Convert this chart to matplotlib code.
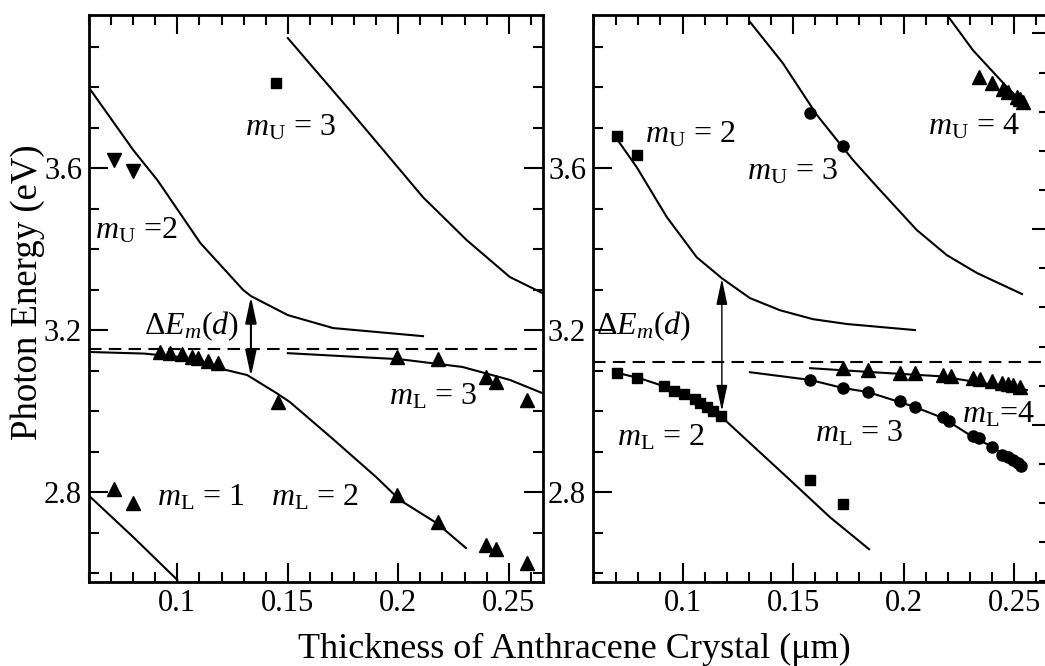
import matplotlib
matplotlib.use("Agg")
import matplotlib.pyplot as plt
from matplotlib.ticker import MultipleLocator, FixedLocator, NullFormatter

plt.rcParams['font.family'] = ['Liberation Serif', 'DejaVu Serif']
plt.rcParams['mathtext.fontset'] = 'custom'
plt.rcParams['mathtext.rm'] = 'Liberation Serif'
plt.rcParams['mathtext.it'] = 'Liberation Serif:italic'

# ---- left panel: theory curves ----
L_up2_x = [0.0598, 0.0801, 0.0910, 0.1104, 0.1298, 0.1333, 0.1500, 0.1705, 0.2112]
L_up2_y = [3.800, 3.644, 3.570, 3.415, 3.299, 3.284, 3.237, 3.205, 3.185]
L_up3_x = [0.1500, 0.1780, 0.2112, 0.2310, 0.2505, 0.2654]
L_up3_y = [3.921, 3.743, 3.528, 3.422, 3.331, 3.291]
L_lo2_x = [0.0600, 0.0850, 0.1000, 0.1163, 0.1316, 0.1450, 0.1510, 0.1700, 0.1900, 0.2008, 0.2175, 0.2306]
L_lo2_y = [3.146, 3.142, 3.134, 3.109, 3.089, 3.044, 3.022, 2.933, 2.837, 2.780, 2.723, 2.662]
L_lo3_x = [0.1500, 0.2008, 0.2290, 0.2505, 0.2654]
L_lo3_y = [3.143, 3.128, 3.109, 3.077, 3.044]
L_lo1_x = [0.0602, 0.0800, 0.1000]
L_lo1_y = [2.790, 2.689, 2.583]

# ---- left panel: measured points ----
L_tdn_x = [0.0711, 0.0801]
L_tdn_y = [3.620, 3.593]
L_sq_x = [0.1447]
L_sq_y = [3.810]
L_tri_x = [0.0711, 0.0801, 0.0923, 0.0968, 0.1023, 0.1068, 0.1095, 0.1140, 0.1185,
           0.1456, 0.1994, 0.2179, 0.2396, 0.2441, 0.2582,
           0.1994, 0.2179, 0.2396, 0.2441, 0.2582]
L_tri_y = [2.807, 2.773, 3.146, 3.143, 3.141, 3.133, 3.131, 3.123, 3.118,
           3.022, 3.133, 3.128, 3.084, 3.072, 3.027,
           2.793, 2.726, 2.669, 2.659, 2.625]
L_exciton = 3.153

# ---- right panel: theory curves ----
R_up2_x = [0.0707, 0.0793, 0.0929, 0.1064, 0.1178, 0.1305, 0.1441, 0.1590, 0.1744, 0.2052]
R_up2_y = [3.669, 3.602, 3.479, 3.380, 3.328, 3.279, 3.249, 3.227, 3.215, 3.200]
R_up3_x = [0.1305, 0.1454, 0.1608, 0.1771, 0.1893, 0.2060, 0.2196, 0.2332, 0.2536]
R_up3_y = [3.961, 3.859, 3.731, 3.620, 3.546, 3.447, 3.385, 3.341, 3.289]
R_up4_x = [0.2201, 0.2314, 0.2468, 0.2558]
R_up4_y = [3.975, 3.891, 3.800, 3.751]
R_lo2_x = [0.0707, 0.0807, 0.0929, 0.1033, 0.1178, 0.1305, 0.1486, 0.1667, 0.1844]
R_lo2_y = [3.094, 3.081, 3.059, 3.040, 2.985, 2.921, 2.830, 2.738, 2.659]
R_lo3_x = [0.1305, 0.1577, 0.1726, 0.1839, 0.1984, 0.2052, 0.2178, 0.2314, 0.2405, 0.2536]
R_lo3_y = [3.096, 3.077, 3.057, 3.047, 3.022, 3.010, 2.983, 2.936, 2.911, 2.862]
R_lo4_x = [0.1577, 0.1862, 0.2165, 0.2558]
R_lo4_y = [3.106, 3.096, 3.086, 3.052]

# ---- right panel: measured points ----
R_sq_x = [0.0702, 0.0793, 0.0704, 0.0795, 0.0915, 0.0961, 0.1006, 0.1056, 0.1081,
          0.1111, 0.1139, 0.1176, 0.1577, 0.1726]
R_sq_y = [3.679, 3.632, 3.093, 3.081, 3.062, 3.050, 3.042, 3.030, 3.020,
          3.011, 3.001, 2.988, 2.830, 2.770]
R_ci_x = [0.1577, 0.1726, 0.1577, 0.1726, 0.1839, 0.1984, 0.2052, 0.2180, 0.2206,
          0.2315, 0.2342, 0.2400, 0.2445, 0.2473, 0.2495, 0.2518, 0.2532]
R_ci_y = [3.736, 3.654, 3.077, 3.056, 3.047, 3.025, 3.010, 2.985, 2.975,
          2.938, 2.933, 2.911, 2.891, 2.886, 2.879, 2.871, 2.864]
R_tri_x = [0.2342, 0.2400, 0.2450, 0.2473, 0.2513, 0.2527, 0.2541,
           0.1726, 0.1839, 0.1984, 0.2052, 0.2178, 0.2215, 0.2315, 0.2346,
           0.2400, 0.2445, 0.2473, 0.2495, 0.2527]
R_tri_y = [3.825, 3.810, 3.795, 3.788, 3.775, 3.770, 3.763,
           3.106, 3.101, 3.094, 3.093, 3.089, 3.086, 3.081, 3.079,
           3.074, 3.069, 3.067, 3.064, 3.060]
R_exciton = 3.121

W, H = 1045, 666
fig = plt.figure(figsize=(W / 100, H / 100), dpi=100)
axL = fig.add_axes([89 / W, 84 / H, 454 / W, 567 / H])
axR = fig.add_axes([593 / W, 84 / H, 454 / W, 567 / H])

ylim = (2.578, 3.978)
lw = 1.5
tick_fs = 22


def style(ax, right=True):
    ax.set_ylim(*ylim)
    ax.xaxis.set_major_locator(FixedLocator([0.1, 0.15, 0.2, 0.25]))
    ax.xaxis.set_minor_locator(MultipleLocator(0.01))
    ax.yaxis.set_major_locator(FixedLocator([2.8, 3.2, 3.6]))
    ax.yaxis.set_minor_locator(MultipleLocator(0.1))
    ax.set_xticklabels(['0.1', '0.15', '0.2', '0.25'])
    ax.set_yticklabels(['2.8', '3.2', '3.6'])
    ax.tick_params(which='both', direction='in', top=True, right=right,
                   width=1.5, labelsize=tick_fs, color='black')
    ax.tick_params(which='major', length=14, pad=5)
    ax.tick_params(which='minor', length=7)
    for s in ax.spines.values():
        s.set_linewidth(2)


style(axL)
style(axR, right=False)
axL.set_xlim(0.0600, 0.2655)
axR.set_xlim(0.0595, 0.2649)

# twin axis on the right of the right panel
ax2 = axR.twinx()
ax2.set_ylim(-0.013, 14.47)
ax2.yaxis.set_major_locator(FixedLocator([4, 9, 14]))
ax2.yaxis.set_minor_locator(MultipleLocator(1))
ax2.yaxis.set_major_formatter(NullFormatter())
ax2.tick_params(which='both', direction='in', width=1.5)
ax2.tick_params(which='major', length=11)
ax2.tick_params(which='minor', length=6)
for s in ax2.spines.values():
    s.set_visible(False)

# curves left
for xs, ys in [(L_up2_x, L_up2_y), (L_up3_x, L_up3_y), (L_lo2_x, L_lo2_y),
               (L_lo3_x, L_lo3_y), (L_lo1_x, L_lo1_y)]:
    axL.plot(xs, ys, color='black', lw=lw)
axL.axhline(L_exciton, color='black', lw=1.5, ls=(0, (6, 3.5)))
axL.plot(L_tdn_x, L_tdn_y, 'v', color='black', ms=9.5, ls='none')
axL.plot(L_sq_x, L_sq_y, 's', color='black', ms=7, ls='none')
axL.plot(L_tri_x, L_tri_y, '^', color='black', ms=9.5, ls='none')

# curves right
for xs, ys in [(R_up2_x, R_up2_y), (R_up3_x, R_up3_y), (R_up4_x, R_up4_y),
               (R_lo2_x, R_lo2_y), (R_lo3_x, R_lo3_y), (R_lo4_x, R_lo4_y)]:
    axR.plot(xs, ys, color='black', lw=lw)
axR.axhline(R_exciton, color='black', lw=1.5, ls=(0, (6, 3.5)))
axR.plot(R_sq_x, R_sq_y, 's', color='black', ms=7, ls='none')
axR.plot(R_ci_x, R_ci_y, 'o', color='black', ms=8, ls='none')
axR.plot(R_tri_x, R_tri_y, '^', color='black', ms=9.5, ls='none')

# arrows for the splitting
axL.annotate('', xy=(0.1333, 3.283), xytext=(0.1333, 3.085),
             arrowprops=dict(arrowstyle='<|-|>,head_length=0.8,head_width=0.17',
                             color='black', lw=1.5, shrinkA=0, shrinkB=0,
                             mutation_scale=20))
axR.annotate('', xy=(0.1178, 3.327), xytext=(0.1178, 3.000),
             arrowprops=dict(arrowstyle='<|-|>,head_length=0.8,head_width=0.17',
                             color='black', lw=1.0, shrinkA=0, shrinkB=0,
                             mutation_scale=20))

lab_fs = 23
kw = dict(fontsize=lab_fs, va='center', ha='left')
axL.text(0.0850, 3.210, r'$\Delta E_m(d)$', **kw)
axL.text(0.1305, 3.700, r'$m_{\mathrm{U}}$ = 3', **kw)
axL.text(0.0627, 3.445, r'$m_{\mathrm{U}}$ =2', **kw)
axL.text(0.0907, 2.785, r'$m_{\mathrm{L}}$ = 1', **kw)
axL.text(0.1422, 2.785, r'$m_{\mathrm{L}}$ = 2', **kw)
axL.text(0.1960, 3.035, r'$m_{\mathrm{L}}$ = 3', **kw)

axR.text(0.0608, 3.210, r'$\Delta E_m(d)$', **kw)
axR.text(0.0829, 3.683, r'$m_{\mathrm{U}}$ = 2', **kw)
axR.text(0.1290, 3.592, r'$m_{\mathrm{U}}$ = 3', **kw)
axR.text(0.2111, 3.703, r'$m_{\mathrm{U}}$ = 4', **kw)
axR.text(0.0703, 2.933, r'$m_{\mathrm{L}}$ = 2', **kw)
axR.text(0.1600, 2.945, r'$m_{\mathrm{L}}$ = 3', **kw)
axR.text(0.2264, 2.990, r'$m_{\mathrm{L}}$=4', **kw)

fig.text(574 / W, 1 - 649 / H, 'Thickness of Anthracene Crystal (\u03bcm)',
         fontsize=26, ha='center', va='center')
fig.text(28 / W, 1 - 292 / H, 'Photon Energy (eV)', fontsize=26.5,
         ha='center', va='center', rotation=90)

fig.savefig('out.png', dpi=100)
